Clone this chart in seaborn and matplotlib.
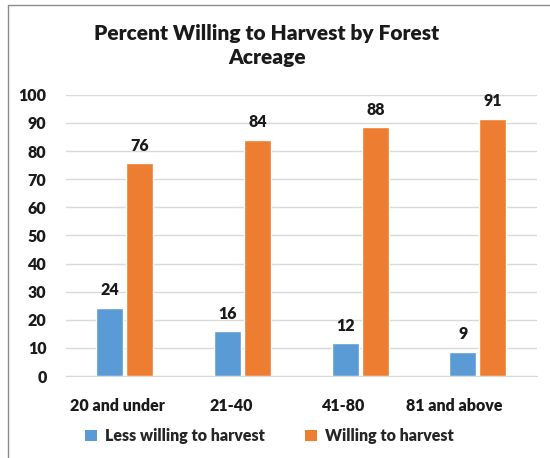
import matplotlib.pyplot as plt
import matplotlib.transforms as mtransforms
from matplotlib.lines import Line2D
from matplotlib.patches import Patch
import seaborn as sns
import pandas as pd

plt.switch_backend("Agg")

# --- data ---
categories = ["20 and under", "21-40", "41-80", "81 and above"]
less_willing = [24.2, 15.9, 11.6, 8.6]
willing = [75.6, 84.0, 88.4, 91.4]
series_names = ["Less willing to harvest", "Willing to harvest"]
colors = ["#5B9BD5", "#ED7D31"]
yticks = list(range(0, 101, 10))

df = pd.DataFrame({
    "Acreage": categories * 2,
    "Percent": less_willing + willing,
    "Group": [series_names[0]] * 4 + [series_names[1]] * 4,
})

sns.set_style("white")
plt.rcParams["font.family"] = ["Lato", "DejaVu Sans"]
W = "heavy"
plt.rcParams["font.weight"] = W

fig = plt.figure(figsize=(5.5, 4.58), dpi=100)
ax = fig.add_axes([0.12, 0.179, 0.856, 0.614])

sns.barplot(data=df, x="Acreage", y="Percent", hue="Group",
            order=categories, hue_order=series_names,
            palette=colors, width=0.51, gap=0.1, saturation=1,
            legend=False, ax=ax, zorder=3)

for cont in ax.containers:
    ax.bar_label(cont, labels=[f"{round(v.get_height()):d}" for v in cont],
                 padding=7, fontsize=11.5, fontweight=W, color="#1a1a1a")

ax.set_ylim(0, 100)
ax.set_yticks(yticks)
ax.set_xlim(-0.5, 3.5)
ax.yaxis.grid(True, color="#d9d9d9", linewidth=1, zorder=0)
ax.set_axisbelow(True)
for s in ["left", "right", "top"]:
    ax.spines[s].set_visible(False)
ax.spines["bottom"].set_color("#d9d9d9")
ax.set_xlabel("")
ax.set_ylabel("")
ax.tick_params(axis="both", length=0, labelsize=11.5, labelcolor="#1a1a1a")
ax.tick_params(axis="y", pad=14)
ax.tick_params(axis="x", pad=16)
for lbl in ax.get_yticklabels() + ax.get_xticklabels():
    lbl.set_fontweight(W)

# excel leaves the category labels drifting left
shifts = [-7, -11, -17, -24]
for lbl, dx in zip(ax.get_xticklabels(), shifts):
    lbl.set_transform(lbl.get_transform() +
                      mtransforms.ScaledTranslation(dx / 100, 0, fig.dpi_scale_trans))

fig.text(0.485, 0.90, "Percent Willing to Harvest by Forest\nAcreage",
         ha="center", va="center", fontsize=15, fontweight=W,
         color="#1a1a1a", linespacing=1.3)

handles = [Patch(facecolor=c, edgecolor="none") for c in colors]
fig.legend(handles, series_names, loc="center", bbox_to_anchor=(0.49, 0.048),
           ncol=2, frameon=False, fontsize=11.5, handlelength=0.75,
           handleheight=0.75, handletextpad=0.5, columnspacing=2.5)

# chart frame (only left and top edges fall inside the image)
fig.add_artist(Line2D([8 / 550, 8 / 550], [0, 1 - 5 / 458], color="#8c8c8c",
                      linewidth=1, transform=fig.transFigure))
fig.add_artist(Line2D([8 / 550, 1], [1 - 5 / 458, 1 - 5 / 458], color="#8c8c8c",
                      linewidth=1, transform=fig.transFigure))

fig.savefig("out.png", dpi=100, facecolor="white")
plt.close(fig)
